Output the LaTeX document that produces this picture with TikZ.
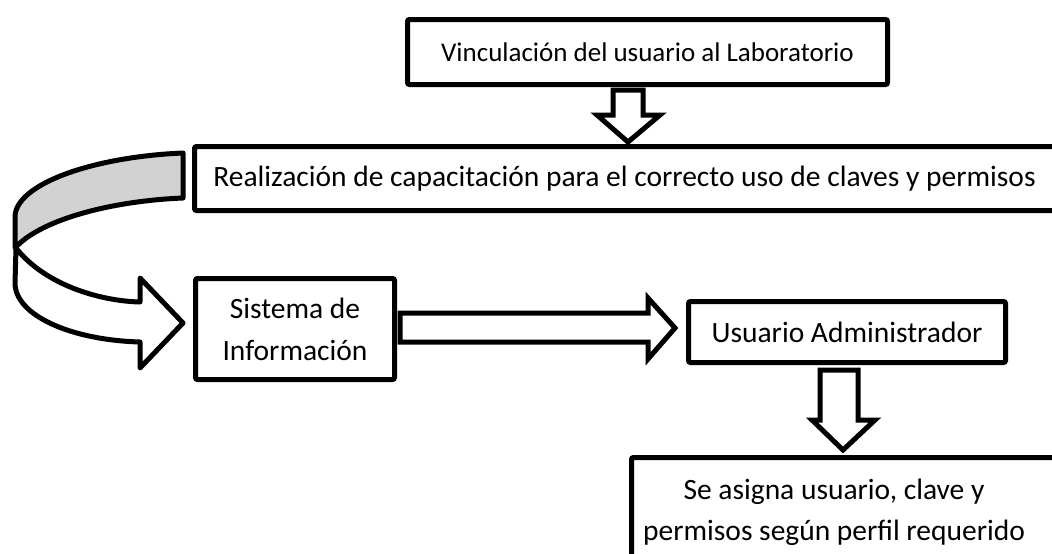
\documentclass[tikz,border=0pt]{standalone}
\usepackage{fontspec}
\setmainfont{Carlito}
\begin{document}
\begin{tikzpicture}[x=1pt,y=-1pt,
  box/.style={draw, line width=5pt, rounded corners=2pt, fill=white, inner sep=0pt,
    font=\fontsize{29.5}{42}\selectfont, align=center, anchor=north west},
  txt/.style={font=\fontsize{29.5}{41}\selectfont, align=center, inner sep=0pt},
  barrow/.style={draw, line width=5pt, fill=white, line join=miter},
  curved/.style={draw, line width=5pt, line join=round}
]
\useasboundingbox (0,0) rectangle (1052,554);
\clip (0,0) rectangle (1052,554);

% boxes
\node[box, minimum width=480pt, minimum height=65pt, font=\fontsize{27}{40}\selectfont] (b1) at (405,17) {Vinculación del usuario al Laboratorio};
\node[box, minimum width=860pt, minimum height=64pt] (b2) at (192,144) {Realización de capacitación para el correcto uso de claves y permisos};
\node[box, minimum width=199pt, minimum height=101pt] (b3) at (193,276) {Sistema de\\Información};
\node[box, minimum width=317pt, minimum height=61pt] (b4) at (686,299) {Usuario Administrador};
\node[box, minimum width=450pt, minimum height=130pt] (b5) at (629,455) {};
\node[txt] (t5) at (834,512) {Se asigna usuario, clave y\\permisos según perfil requerido};

% block arrows
\path[barrow] (613,90) -- (643,90) -- (643,115) -- (660,115) -- (628,142) -- (597,115) -- (613,115) -- cycle;
\path[barrow] (400,313) -- (648,313) -- (648,298) -- (675,328) -- (648,359) -- (648,342) -- (400,342) -- cycle;
\path[barrow] (820,370) -- (858,370) -- (858,420) -- (875,420) -- (843,450) -- (812,420) -- (820,420) -- cycle;

% curved arrow
\path[curved, fill=gray!35] (183,153) .. controls (90,157) and (15,185) .. (15,217)
  -- (15,248) .. controls (40,220) and (110,201) .. (183,198) -- cycle;
\path[curved, fill=white] (16,248) .. controls (45,285) and (100,301) .. (140,302)
  -- (140,278) -- (183,323) -- (140,368) -- (140,342)
  .. controls (70,340) and (15,315) .. (15,283) -- cycle;
\end{tikzpicture}
\end{document}
